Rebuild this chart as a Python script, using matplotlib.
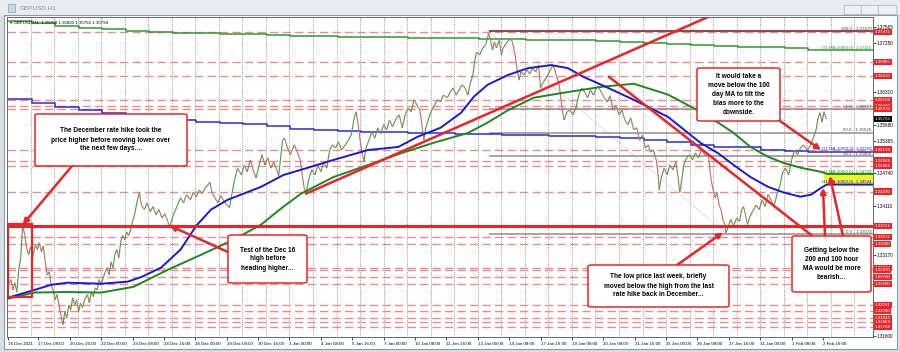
import matplotlib
matplotlib.use("Agg")
import matplotlib.pyplot as plt
import matplotlib.transforms as mtransforms
from matplotlib.collections import LineCollection
from matplotlib.patches import Rectangle, FancyBboxPatch

plt.rcParams['font.family'] = ['Liberation Sans', 'DejaVu Sans']

# ---- data (x = hourly bar index) ----
bars = [0, 3, 5, 7, 9, 11, 13, 14, 15, 17, 19, 21, 23, 25, 28, 30, 32, 34, 36, 38,
        40, 42, 44, 46, 48, 50, 52, 54, 56, 58, 60, 62, 64, 66, 68, 70, 72, 74, 76, 78,
        81, 83, 85, 87, 89, 91, 93, 95, 98, 101, 103, 105, 107, 109, 111, 113, 115, 117, 119, 121,
        123, 125, 127, 129, 132, 134, 136, 139, 142, 145, 148, 151, 154, 157, 160, 163, 165, 167, 170, 173,
        176, 179, 182, 186, 189, 192, 195, 198, 201, 204, 206, 208, 211, 214, 217, 220, 223, 226, 228, 231,
        234, 238, 241, 244, 247, 250, 253, 256, 259, 262, 265, 268, 271, 274, 276, 278, 280, 282, 285, 288,
        292, 295, 298, 300, 302, 304, 307, 310, 313, 316, 319, 322, 325, 328, 331, 334, 337, 340, 344, 347,
        350, 353, 355, 357, 359, 361, 363, 365, 368, 371, 374, 377, 380, 383, 386, 389, 392, 396, 399, 402,
        405, 408, 411, 414, 417, 420, 422, 424, 426, 429, 432, 435, 438, 441, 444, 448, 451, 454, 457, 460,
        463, 466, 469, 471, 474, 476, 478, 481, 484, 487, 489, 490, 492, 494, 496, 498, 501, 503, 505, 507,
        509, 511, 513, 515, 517, 519, 521, 523, 526, 529, 532, 535, 538, 541, 543, 546, 549, 553, 556, 559,
        562, 564, 566, 567, 570, 573, 576, 579, 582, 585, 588, 591, 594, 597, 600, 602, 605, 608, 611, 614,
        617, 620, 623, 626, 629, 632, 635, 638, 641, 644, 647, 650, 653, 655, 658, 661, 663, 664, 666, 669,
        672, 675, 678, 681, 683, 685, 687, 689, 692, 695, 698, 701, 704, 707, 711, 714, 716, 717, 719, 721,
        723, 725, 727, 729, 731, 732, 734, 737, 740, 743, 746, 748, 750, 752, 754, 756, 759, 763, 766, 769,
        772, 775, 778, 781, 784, 787, 790, 793, 796, 799, 802, 805, 808, 811, 815, 818, 821, 824, 826, 828,
        830, 832, 834, 835]
closes = [1.3259, 1.3269, 1.3249, 1.3263, 1.3245, 1.3288, 1.3311, 1.3346, 1.3373, 1.3356, 1.3330, 1.3317, 1.3332, 1.3311, 1.3336, 1.3327, 1.3340, 1.3323, 1.3334, 1.3303,
          1.3278, 1.3284, 1.3259, 1.3249, 1.3230, 1.3240, 1.3220, 1.3201, 1.3182, 1.3207, 1.3195, 1.3220, 1.3211, 1.3234, 1.3220, 1.3230, 1.3207, 1.3224, 1.3215, 1.3230,
          1.3240, 1.3224, 1.3245, 1.3236, 1.3253, 1.3249, 1.3269, 1.3259, 1.3278, 1.3292, 1.3278, 1.3303, 1.3292, 1.3317, 1.3327, 1.3311, 1.3342, 1.3354, 1.3346, 1.3361,
          1.3354, 1.3365, 1.3381, 1.3394, 1.3423, 1.3437, 1.3413, 1.3404, 1.3417, 1.3400, 1.3410, 1.3394, 1.3404, 1.3388, 1.3396, 1.3381, 1.3371, 1.3385, 1.3400, 1.3413,
          1.3427, 1.3417, 1.3433, 1.3423, 1.3438, 1.3429, 1.3442, 1.3435, 1.3446, 1.3452, 1.3457, 1.3437, 1.3427, 1.3417, 1.3431, 1.3421, 1.3413, 1.3408, 1.3431, 1.3461,
          1.3484, 1.3471, 1.3490, 1.3477, 1.3500, 1.3481, 1.3465, 1.3490, 1.3510, 1.3490, 1.3504, 1.3484, 1.3496, 1.3481, 1.3469, 1.3504, 1.3538, 1.3542, 1.3523, 1.3510,
          1.3529, 1.3515, 1.3500, 1.3471, 1.3446, 1.3437, 1.3465, 1.3481, 1.3471, 1.3490, 1.3477, 1.3496, 1.3484, 1.3519, 1.3529, 1.3523, 1.3535, 1.3519, 1.3529, 1.3538,
          1.3548, 1.3581, 1.3593, 1.3568, 1.3538, 1.3515, 1.3496, 1.3523, 1.3538, 1.3554, 1.3542, 1.3562, 1.3550, 1.3568, 1.3558, 1.3577, 1.3564, 1.3581, 1.3587, 1.3562,
          1.3587, 1.3600, 1.3593, 1.3616, 1.3606, 1.3596, 1.3568, 1.3538, 1.3562, 1.3581, 1.3596, 1.3606, 1.3616, 1.3612, 1.3625, 1.3620, 1.3631, 1.3639, 1.3625, 1.3635,
          1.3645, 1.3639, 1.3625, 1.3645, 1.3664, 1.3693, 1.3708, 1.3703, 1.3716, 1.3722, 1.3735, 1.3745, 1.3731, 1.3712, 1.3728, 1.3716, 1.3731, 1.3703, 1.3716, 1.3722,
          1.3728, 1.3731, 1.3735, 1.3722, 1.3703, 1.3677, 1.3654, 1.3670, 1.3664, 1.3674, 1.3666, 1.3677, 1.3670, 1.3683, 1.3639, 1.3651, 1.3658, 1.3674, 1.3683, 1.3664,
          1.3645, 1.3616, 1.3587, 1.3577, 1.3593, 1.3596, 1.3587, 1.3600, 1.3625, 1.3639, 1.3631, 1.3620, 1.3635, 1.3625, 1.3639, 1.3641, 1.3631, 1.3620, 1.3612, 1.3624,
          1.3596, 1.3606, 1.3587, 1.3596, 1.3577, 1.3568, 1.3581, 1.3558, 1.3562, 1.3538, 1.3548, 1.3523, 1.3529, 1.3515, 1.3519, 1.3500, 1.3471, 1.3442, 1.3465, 1.3484,
          1.3471, 1.3490, 1.3481, 1.3496, 1.3471, 1.3437, 1.3461, 1.3490, 1.3504, 1.3510, 1.3500, 1.3513, 1.3504, 1.3519, 1.3508, 1.3513, 1.3477, 1.3461, 1.3442, 1.3427,
          1.3438, 1.3413, 1.3404, 1.3385, 1.3375, 1.3359, 1.3369, 1.3385, 1.3373, 1.3388, 1.3381, 1.3404, 1.3410, 1.3394, 1.3375, 1.3388, 1.3400, 1.3413, 1.3404, 1.3423,
          1.3410, 1.3433, 1.3423, 1.3410, 1.3433, 1.3450, 1.3477, 1.3484, 1.3471, 1.3500, 1.3519, 1.3510, 1.3523, 1.3529, 1.3519, 1.3527, 1.3542, 1.3558, 1.3581, 1.3591,
          1.3573, 1.3593, 1.3581, 1.3579]

ma100_bars = [0, 27, 44, 61, 95, 122, 136, 156, 176, 192, 207, 224, 258, 281, 299, 332, 367, 398, 418, 441,
              462, 475, 489, 510, 530, 554, 571, 587, 605, 638, 673, 706, 724, 740, 757, 775, 791, 808, 819, 829, 835]
ma100 = [1.3234, 1.3249, 1.3259, 1.3263, 1.3261, 1.3265, 1.3274, 1.3292, 1.3327, 1.3373, 1.3404, 1.3423, 1.3448, 1.3471, 1.3481, 1.3500, 1.3519, 1.3525, 1.3545, 1.3562,
         1.3591, 1.3622, 1.3645, 1.3664, 1.3677, 1.3683, 1.3677, 1.3660, 1.3645, 1.3616, 1.3583, 1.3533, 1.3513, 1.3490, 1.3467, 1.3448, 1.3437, 1.3429, 1.3433, 1.3446, 1.34524]
ma200_bars = [0, 27, 61, 95, 128, 163, 197, 230, 258, 281, 299, 332, 367, 401, 434, 469, 489, 510, 536, 571,
              605, 638, 673, 703, 720, 740, 757, 775, 791, 808, 829, 835]
ma200 = [1.3232, 1.3244, 1.3245, 1.3244, 1.3255, 1.3288, 1.3317, 1.3346, 1.3375, 1.3410, 1.3435, 1.3467, 1.3490, 1.3513, 1.3533, 1.3552, 1.3572, 1.3596, 1.3620, 1.3631,
         1.3641, 1.3647, 1.3626, 1.3596, 1.3577, 1.3552, 1.3525, 1.3506, 1.3494, 1.3485, 1.3477, 1.34729]

# daily moving averages, one value per 24-bar day
d1_ma100 = [1.3618, 1.3610, 1.3602, 1.3596, 1.3591, 1.3585, 1.3579, 1.3577, 1.3573, 1.3572, 1.3570, 1.3566,
            1.3560, 1.3558, 1.3556, 1.3554, 1.3554, 1.3552, 1.3552, 1.3550, 1.3550, 1.3548, 1.3548, 1.3546,
            1.3546, 1.3545, 1.3543, 1.3539, 1.3535, 1.3529, 1.3525, 1.3524, 1.3520, 1.3518, 1.3516]
d1_ma200 = [1.3769, 1.3765, 1.3759, 1.3755, 1.3753, 1.3749, 1.3747, 1.3745, 1.3745, 1.3743, 1.3743, 1.3742,
            1.3740, 1.3740, 1.3738, 1.3738, 1.3738, 1.3736, 1.3736, 1.3736, 1.3734, 1.3734, 1.3732, 1.3732,
            1.3732, 1.3730, 1.3728, 1.3726, 1.3724, 1.3722, 1.3720, 1.3718, 1.3718, 1.3716, 1.37115]

levels = [1.37473, 1.36883, 1.36620, 1.36160, 1.36040, 1.35976, 1.35199, 1.34988, 1.34891, 1.34390,
          1.33512, 1.33380, 1.32920, 1.32870, 1.32740, 1.32600, 1.32201, 1.32080, 1.31942, 1.31864, 1.31784]
hike_high = 1.33721
fib_names = ['100.0', '61.8', '50.0', '38.2', '0.0']
fib_values = [1.37479, 1.35987, 1.35526, 1.35066, 1.33574]
fib_high_bar, fib_low_bar = 490, 732
trend_up = ([304, 714], [1.3435, 1.3776])
trend_down = ([613, 819], [1.3660, 1.3355])
hike_box = (0, 24, 1.3236, 1.3377)

price_ticks = [1.37565, 1.37250, 1.36310, 1.35680, 1.35365, 1.34740, 1.34110, 1.33170, 1.31600]
date_ticks = [0] + [31 + 32 * k for k in range(26)]
date_labels = ['16 Dec 2021', '17 Dec 08:00', '20 Dec 16:00', '22 Dec 00:00', '23 Dec 08:00', '24 Dec 16:00',
               '28 Dec 00:00', '29 Dec 08:00', '30 Dec 16:00', '3 Jan 00:00', '4 Jan 08:00', '5 Jan 16:00',
               '7 Jan 00:00', '10 Jan 08:00', '11 Jan 16:00', '13 Jan 00:00', '14 Jan 08:00', '17 Jan 16:00',
               '19 Jan 00:00', '20 Jan 08:00', '21 Jan 16:00', '25 Jan 00:00', '26 Jan 08:00', '27 Jan 16:00',
               '31 Jan 00:00', '1 Feb 08:00', '2 Feb 16:00']
current = 1.35794
ohlc_info = 'GBPUSD,H1  1.35768 1.35820 1.35756 1.35794'

RED = '#e8262a'
W, H = 900, 352


def fx(x, y):
    return (x / W, 1 - y / H)


fig = plt.figure(figsize=(9, 3.52), dpi=100, facecolor='#d7dee6')

# window chrome
fig.patches.append(Rectangle((0, 1 - 15 / H), 1, 15 / H, transform=fig.transFigure,
                             fc='#e7ecf2', ec='none', zorder=-5))
fig.patches.append(Rectangle(fx(4, 349), 893 / W, 334 / H, transform=fig.transFigure,
                             fc='white', ec='#8e99a6', lw=0.8, zorder=-4))
fig.patches.append(Rectangle(fx(8, 12), 7 / W, 8 / H, transform=fig.transFigure,
                             fc='#c9d6e3', ec='#8aa0b5', lw=0.5, zorder=-3))
fig.text(20 / W, 1 - 8 / H, 'GBPUSD,H1', fontsize=4.6, color='#8593a2', va='center')
for bx in (846, 863, 880):
    fig.patches.append(FancyBboxPatch(fx(bx, 14), 15 / W, 8 / H, boxstyle='round,pad=0.002',
                                      transform=fig.transFigure, fc='#eef1f5', ec='#a4afbb',
                                      lw=0.5, zorder=-3))

ax = fig.add_axes([7 / W, 15 / H, 866 / W, 320 / H])
ax.set_facecolor('white')
ax.set_xlim(-1, 882)
ax.set_ylim(1.31582, 1.37758)
yblend = mtransforms.blended_transform_factory(ax.transAxes, ax.transData)

# day separators
for g in range(23, 882, 24):
    ax.axvline(g, color='#444444', lw=0.5, ls=(0, (1, 2)), zorder=0.5)

for v in levels:
    ax.axhline(v, color='#ea8c8c', lw=1.0, ls=(0, (6, 3)), zorder=0.8)

# fibonacci retracement
ax.plot([fib_high_bar, fib_low_bar], [fib_values[0], fib_values[-1]],
        color='#c49a9a', lw=0.6, ls=(0, (1, 1.5)), zorder=0.9)
for name, v in zip(fib_names, fib_values):
    ax.hlines(v, fib_high_bar, 882, color='#8f4a4a' if name == '100.0' else '#8e8e8e',
              lw=1.5 if name == '100.0' else 1.1, zorder=0.9)
    ax.text(0.998, v + 0.00004, f'{name} - {v:.5f}', transform=yblend, ha='right', va='bottom',
            fontsize=3.2, color='#444444')

# moving averages (hourly), extended to the right edge
ax.plot(ma200_bars + [882], ma200 + [ma200[-1]], color='#1b8a1b', lw=1.4, zorder=2.2)
ax.plot(ma100_bars + [882], ma100 + [ma100[-1]], color='#1a1ad2', lw=1.4, zorder=2.2)
# daily moving averages as steps
day_bars = [24 * k for k in range(len(d1_ma100))]
ax.step(day_bars + [835, 882], d1_ma100 + [d1_ma100[-1]] * 2, where='post', color='#2b2bd8', lw=1.1, zorder=2)
ax.step(day_bars + [835, 882], d1_ma200 + [d1_ma200[-1]] * 2, where='post', color='#2f9a2f', lw=1.1, zorder=2)
ax.text(0.998, d1_ma200[-1] + 0.00004, f'D1 MA-200(0,0)- {d1_ma200[-1]:.5f}', transform=yblend,
        ha='right', va='bottom', fontsize=3.2, color='#2f9a2f')
ax.text(0.998, d1_ma100[-1] + 0.00004, f'D1 MA-100(0,0)- {d1_ma100[-1]:.5f}', transform=yblend,
        ha='right', va='bottom', fontsize=3.2, color='#2b2bd8')

# yellow highlight between the hourly MAs
ax.add_patch(Rectangle((832, ma100[-1]), 50, ma200[-1] - ma100[-1], fc='#f3f32c', ec='none', zorder=1.5))
ax.text(0.998, ma200[-1] + 0.00003, f'H1 MA-200(0,0)- {ma200[-1]:.5f}', transform=yblend,
        ha='right', va='bottom', fontsize=3.2, color='#1b8a1b', zorder=3)
ax.text(0.998, ma100[-1] + 0.00003, f'H1 MA-100(0,0)- {ma100[-1]:.5f}', transform=yblend,
        ha='right', va='bottom', fontsize=3.2, color='#1a1ad2', zorder=3)

# price
pts = list(zip(bars, closes))
segs = [[pts[i], pts[i + 1]] for i in range(len(pts) - 1)]
cols = ['#4f9f4f' if closes[i + 1] >= closes[i] else '#c4726a' for i in range(len(pts) - 1)]
ax.add_collection(LineCollection(segs, colors=cols, linewidths=0.85, zorder=2.1))

# hand drawn lines
ax.axhline(hike_high, color=RED, lw=2.2, zorder=2.5)
ax.add_patch(Rectangle((hike_box[0], hike_box[2]), hike_box[1] - hike_box[0], hike_box[3] - hike_box[2],
                       fill=False, ec=RED, lw=1.6, zorder=2.5))
ax.plot(*trend_up, color=RED, lw=1.8, zorder=2.5)
ax.plot(*trend_down, color=RED, lw=1.8, zorder=2.5)

ax.text(0.004, 0.988, '\u25be ' + ohlc_info, transform=ax.transAxes, fontsize=3.2, va='top',
        color='black', zorder=4)

# axes
for s in ax.spines.values():
    s.set_color('#505050')
    s.set_linewidth(0.6)
ax.yaxis.tick_right()
ax.set_yticks(price_ticks)
ax.set_yticklabels([f'{v:.5f}' for v in price_ticks])
ax.tick_params(axis='y', labelsize=3.3, length=2, width=0.5, pad=1)
ax.set_xticks(date_ticks)
ax.set_xticklabels(date_labels)
ax.tick_params(axis='x', labelsize=3.2, length=2, width=0.5, pad=1.5)
for lbl in ax.get_xticklabels():
    lbl.set_horizontalalignment('left')

for v in levels + [hike_high]:
    ax.text(1.002, v, f'{v:.5f}', transform=yblend, fontsize=3.2, color='white', va='center', ha='left',
            bbox=dict(boxstyle='square,pad=0.25', fc=RED, ec='none'), clip_on=False, zorder=5)
ax.text(1.002, current, f'{current:.5f}', transform=yblend, fontsize=3.2, color='white', va='center',
        ha='left', bbox=dict(boxstyle='square,pad=0.25', fc='black', ec='none'), clip_on=False, zorder=5)

# annotation boxes
notes = [
    ((35, 114, 187, 166), 'The December rate hike took the\nprice higher before moving lower over\nthe next few days....'),
    ((228, 235, 307, 283), 'Test of the Dec 16\nhigh before\nheading higher...'),
    ((588, 265, 729, 307), 'The low price last week, briefly\nmoved below the high from the last\nrate hike back in December...'),
    ((697, 68, 780, 121), 'It would take a\nmove below the 100\nday MA to tilt the\nbias more to the\ndownside.'),
    ((792, 236, 871, 292), 'Getting below the\n200 and 100 hour\nMA would be more\nbearish...'),
]
for (x0, y0, x1, y1), txt in notes:
    ax.add_patch(FancyBboxPatch(fx(x0, y1), (x1 - x0) / W, (y1 - y0) / H, boxstyle='round,pad=0,rounding_size=0.004',
                                transform=fig.transFigure, fc='white', ec=RED, lw=1.1, clip_on=False, zorder=6))
    ax.text(*fx((x0 + x1) / 2, (y0 + y1) / 2), txt, transform=fig.transFigure, ha='center', va='center',
            fontsize=4.7, fontweight='bold', linespacing=1.4, color='black', zorder=7)

arrows = [((72, 166), (15, 1.3375)), ((228, 252), (165, 1.3373)), ((677, 265), (729, 1.3360)),
          ((780, 121), (829, 1.3519)), ((825, 236), (831, 1.3446)), ((843, 236), (838, 1.3469))]
for tail, head in arrows:
    ax.annotate('', xy=head, xycoords='data', xytext=fx(*tail), textcoords='figure fraction',
                arrowprops=dict(arrowstyle='-|>', color=RED, lw=1.8, mutation_scale=8,
                                shrinkA=0, shrinkB=0), zorder=5.5, annotation_clip=False)

fig.savefig('out.png', dpi=100, facecolor=fig.get_facecolor())
